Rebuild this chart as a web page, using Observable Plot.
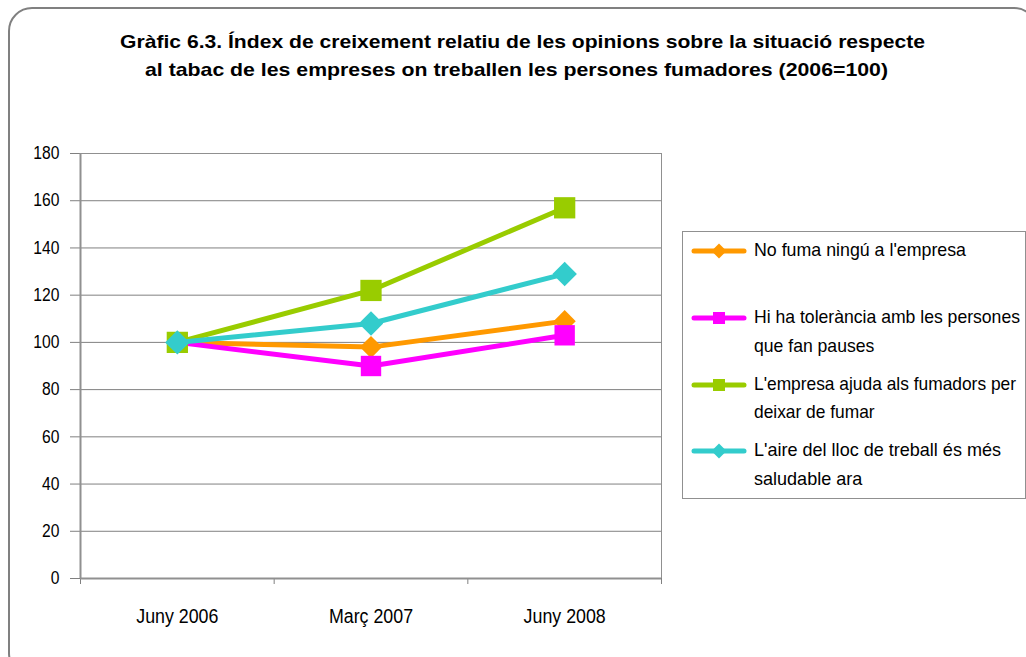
<!DOCTYPE html>
<html>
<head>
<meta charset="utf-8">
<script src="https://cdn.jsdelivr.net/npm/d3@7"></script>
<script src="https://cdn.jsdelivr.net/npm/@observablehq/plot@0.6"></script>
<style>
  html, body { margin: 0; padding: 0; background: #fff; }
  #wrap { position: relative; width: 1026px; height: 657px; overflow: hidden;
          font-family: "Liberation Sans", Arial, sans-serif; color: #000; }
  #box { position: absolute; left: 8px; top: 7px; width: 1030px; height: 670px;
         border: 2px solid #808080; border-radius: 24px; box-sizing: border-box; }
  .tline { position: absolute; white-space: nowrap; font-weight: bold; font-size: 19px; line-height: 24px;
           transform-origin: 0 50%; }
  #chart { position: absolute; left: 0; top: 140px; }
  #legend { position: absolute; left: 682px; top: 231px; width: 344px; height: 268px;
            border: 1px solid #909090; box-sizing: border-box; }
  .entry { position: absolute; left: 8px; }
  .entry svg { position: absolute; left: 0; top: 0; }
  .lline { position: absolute; white-space: nowrap; font-size: 18.5px; line-height: 20px;
           transform-origin: 0 50%; }
</style>
</head>
<body>
<div id="wrap">
  <div id="box"></div>
  <div id="chart"></div>
  <div id="legend"></div>
</div>
<script>
// ---- data ----
const title = [
  "Gràfic 6.3. Índex de creixement relatiu de les opinions sobre la situació respecte",
  "al tabac de les empreses on treballen les persones fumadores (2006=100)"
];
const periods = ["Juny 2006", "Març 2007", "Juny 2008"];
const seriesNames = [
  "No fuma ningú a l'empresa",
  "Hi ha tolerància amb les persones que fan pauses",
  "L'empresa ajuda als fumadors per deixar de fumar",
  "L'aire del lloc de treball és més saludable ara"
];
const legendLines = [
  ["No fuma ningú a l'empresa"],
  ["Hi ha tolerància amb les persones", "que fan pauses"],
  ["L'empresa ajuda als fumadors per", "deixar de fumar"],
  ["L'aire del lloc de treball és més", "saludable ara"]
];
const noFuma     = [100, 98, 109];
const tolerancia = [100, 90, 103];
const ajuda      = [100, 122, 157];
const aire       = [100, 108, 129];
const yTicks = [0, 20, 40, 60, 80, 100, 120, 140, 160, 180];

const seriesValues = [noFuma, tolerancia, ajuda, aire];
const colors = ["#FF9900", "#FF00FF", "#99CC00", "#33CCCC"];
const symbols = ["diamond2", "square", "square", "diamond2"];
const radii = [10, 11.5, 12, 11];

const wrap = document.getElementById("wrap");
// narrow-font emulation: scale a text horizontally (by target width or by factor)
function placeText(parent, cls, text, left, centerY, targetW, center, factor) {
  const el = document.createElement("div");
  el.className = cls;
  el.textContent = text;
  parent.appendChild(el);
  const r = el.getBoundingClientRect();
  const k = factor ?? (targetW / r.width);
  const w = r.width * k;
  el.style.transform = `scaleX(${k})`;
  el.style.left = (center ? left - w / 2 : left) + "px";
  el.style.top = (centerY - r.height / 2) + "px";
  return k;
}
// title
placeText(wrap, "tline", title[0], 522.5, 41.7, 805, true);
placeText(wrap, "tline", title[1], 516.5, 69.7, 743, true);

const rows = seriesValues.map((vals, s) => vals.map((v, i) => ({series: seriesNames[s], i, v})));

const marks = [
  Plot.gridY(yTicks, {stroke: "#808080", strokeOpacity: 1, strokeWidth: 1}),
  Plot.frame({stroke: "#909090", strokeWidth: 1}),
  Plot.axisY(yTicks, {tickSize: 10, tickPadding: 11, stroke: "#808080", fill: "#000", fontSize: 18, label: null}),
  Plot.axisX([-0.5, 0.5, 1.5, 2.5], {tickSize: 6, tickFormat: () => "", stroke: "#808080", label: null}),
  Plot.axisX([0, 1, 2], {tickSize: 0, tickPadding: 30.5, tickFormat: i => periods[i], fill: "#000", fontSize: 20, label: null}),
  Plot.ruleX([-0.5], {stroke: "#909090", strokeWidth: 2}),
  Plot.ruleY([0], {stroke: "#909090", strokeWidth: 2})
];
rows.forEach((r, s) => {
  marks.push(Plot.line(r, {x: "i", y: "v", stroke: colors[s], strokeWidth: 5}));
  marks.push(Plot.dot(r, {x: "i", y: "v", symbol: symbols[s], r: radii[s], fill: colors[s], stroke: "none"}));
});

const chart = Plot.plot({
  width: 680, height: 510,
  marginLeft: 80, marginRight: 19, marginTop: 13, marginBottom: 72,
  x: {type: "linear", domain: [-0.5, 2.5], label: null},
  y: {domain: [0, 180], label: null},
  style: {fontFamily: "'Liberation Sans', Arial, sans-serif", fontSize: "18px", color: "#000", background: "transparent"},
  marks
});
document.getElementById("chart").appendChild(chart);
// compress tick labels horizontally to mimic the narrow font
chart.querySelectorAll("text").forEach(t => {
  const len = t.getComputedTextLength();
  if (len > 0) {
    const anchor = t.closest("[text-anchor]")?.getAttribute("text-anchor") || t.getAttribute("text-anchor");
    const k = anchor === "end" ? 0.87 : 0.89;
    t.setAttribute("textLength", (len * k).toFixed(2));
    t.setAttribute("lengthAdjust", "spacingAndGlyphs");
  }
});

// ---- legend ----
const legendCenters = [[250], [317, 346], [384, 412], [450, 479]];
const legendWidths = [212, 266, 262, 247];
const legend = document.getElementById("legend");
legendLines.forEach((lines, s) => {
  const e = document.createElement("div");
  e.className = "entry";
  const top = legendCenters[s][0] + 1 - 231 - 1 - 7;
  e.style.top = top + "px";
  const size = symbols[s] === "square" ? 6 : 7.5;
  const marker = symbols[s] === "square"
    ? `<rect x="${28 - size}" y="${7 - size}" width="${2*size}" height="${2*size}" fill="${colors[s]}"/>`
    : `<path d="M28,${7 - size} L${28 + size},7 L28,${7 + size} L${28 - size},7 Z" fill="${colors[s]}"/>`;
  e.innerHTML = `<svg width="60" height="16" style="top:-1px"><g transform="translate(0,1)"><line x1="3" y1="7" x2="53" y2="7" stroke="${colors[s]}" stroke-width="5" stroke-linecap="round"/>${marker}</g></svg>`;
  legend.appendChild(e);
  let k = null;
  lines.forEach((t, j) => {
    const y = legendCenters[s][j] - legendCenters[s][0] + 6;
    k = placeText(e, "lline", t, 63, y, legendWidths[s], false, j === 0 ? undefined : k);
  });
});
</script>
</body>
</html>
